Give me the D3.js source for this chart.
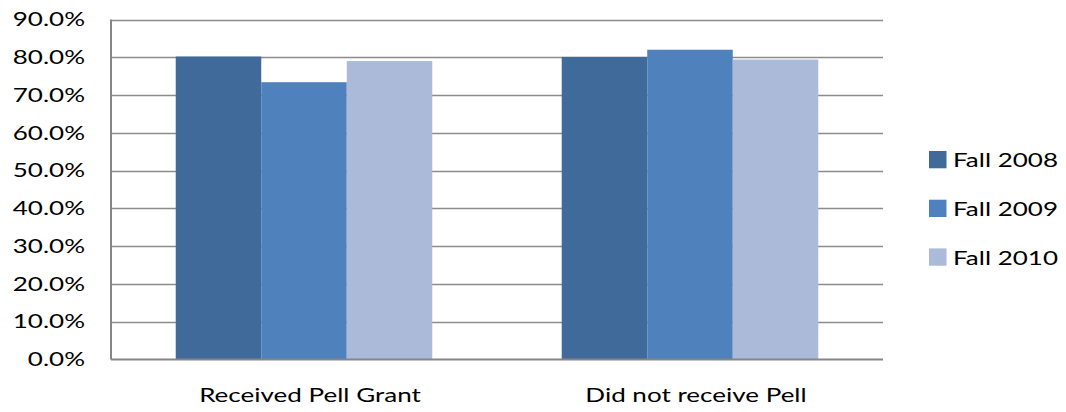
<!DOCTYPE html>
<html>
<head>
<meta charset="utf-8">
<script src="https://cdn.jsdelivr.net/npm/d3@7"></script>
<style>
  body { margin: 0; background: #fff; }
  text { font-family: Lato, "Liberation Sans", sans-serif; fill: #000; }
</style>
</head>
<body>
<svg width="1066" height="412"></svg>
<script>
// chart data
const categories = ["Received Pell Grant", "Did not receive Pell"];
const seriesNames = ["Fall 2008", "Fall 2009", "Fall 2010"];
const fall2008 = [0.802, 0.801];
const fall2009 = [0.734, 0.820];
const fall2010 = [0.790, 0.794];
const yTicks = [0, 0.1, 0.2, 0.3, 0.4, 0.5, 0.6, 0.7, 0.8, 0.9];
const colors = ["#3F6A9A", "#4F81BD", "#AABAD8"];

const series = [fall2008, fall2009, fall2010];

let svg = d3.select("svg");
const stretch = 1.4; // the original text is wider than it is tall

const plotLeft = 111, plotRight = 883, plotTop = 19.5, plotBottom = 359.5;

const x = d3.scaleBand().domain(categories).range([plotLeft, plotRight]).paddingInner(0).paddingOuter(0);
const inner = d3.scaleBand().domain(seriesNames).range([0, x.bandwidth()]).paddingInner(0).paddingOuter(0.757);
const y = d3.scaleLinear().domain([0, 0.9]).range([plotBottom, plotTop]);

// gridlines
svg.append("g")
  .selectAll("line")
  .data(yTicks.filter(d => d > 0))
  .enter().append("line")
  .attr("x1", plotLeft).attr("x2", plotRight)
  .attr("y1", d => Math.round(y(d)) + 0.5)
  .attr("y2", d => Math.round(y(d)) + 0.5)
  .attr("stroke", "#8c8c8c")
  .attr("stroke-width", 1.3);

// bars
const groups = svg.append("g")
  .selectAll("g")
  .data(categories)
  .enter().append("g")
  .attr("transform", d => "translate(" + x(d) + ",0)");

groups.selectAll("rect")
  .data((c, i) => series.map((s, k) => ({ name: seriesNames[k], value: s[i], k: k })))
  .enter().append("rect")
  .attr("x", d => inner(d.name))
  .attr("width", inner.bandwidth())
  .attr("y", d => y(d.value))
  .attr("height", d => y(0) - y(d.value))
  .attr("fill", d => colors[d.k]);

// frame, right side is open in the original
svg.append("line")
  .attr("x1", plotLeft).attr("x2", plotRight)
  .attr("y1", plotBottom).attr("y2", plotBottom)
  .attr("stroke", "#868686").attr("stroke-width", 2);
svg.append("line")
  .attr("x1", plotLeft).attr("x2", plotLeft)
  .attr("y1", plotTop).attr("y2", plotBottom)
  .attr("stroke", "#868686").attr("stroke-width", 2);

// y tick labels
const fmt = d3.format(".1%");
svg.append("g")
  .selectAll("text")
  .data(yTicks)
  .enter().append("text")
  .attr("transform", d => "translate(85," + (y(d) + 6.7) + ") scale(" + stretch + ",1)")
  .attr("text-anchor", "end")
  .style("font-size", "18.6px")
  .text(d => fmt(d));

// category labels
svg.append("g")
  .selectAll("text")
  .data(categories)
  .enter().append("text")
  .attr("transform", d => "translate(" + (x(d) + x.bandwidth() / 2 + 6) + ",401.7) scale(" + stretch + ",1)")
  .attr("text-anchor", "middle")
  .style("font-size", "18.6px")
  .text(d => d);

// legend
const legend = svg.append("g")
  .selectAll("g")
  .data(seriesNames)
  .enter().append("g")
  .attr("transform", (d, i) => "translate(929," + (151 + i * 48.7) + ")");

legend.append("rect")
  .attr("width", 17.5).attr("height", 17.3)
  .attr("fill", (d, i) => colors[i]);

legend.append("text")
  .attr("transform", "translate(24,16.3) scale(1.3,1)")
  .style("font-size", "20px")
  .text(d => d);
</script>
</body>
</html>
